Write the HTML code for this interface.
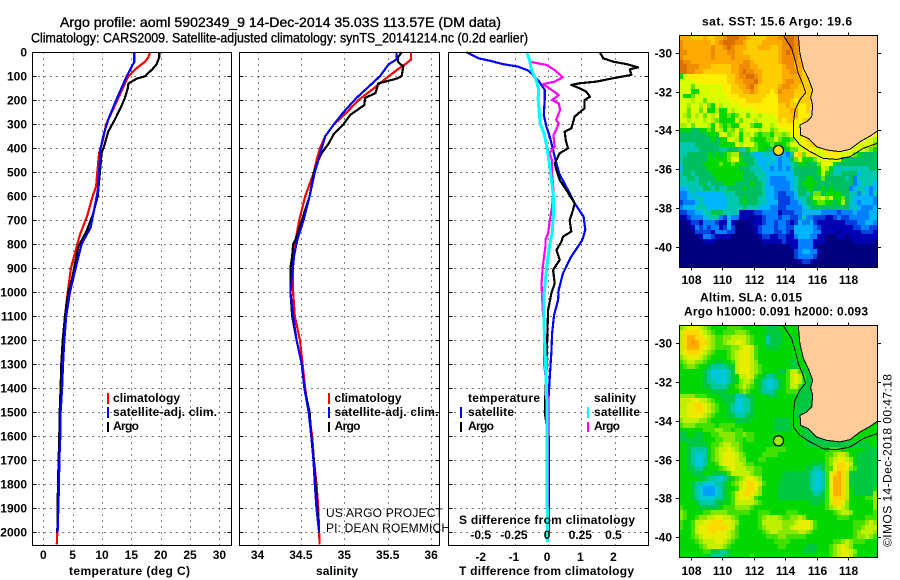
<!DOCTYPE html>
<html lang="en">
<head>
<meta charset="utf-8">
<title>Argo profile 5902349_9</title>
<style>
html,body{margin:0;padding:0;background:#fff;}
svg{display:block;}
text{font-family:"Liberation Sans",sans-serif;font-weight:bold;font-size:12px;fill:#000;}
.ttl{font-size:14px;font-weight:normal;stroke:#000;stroke-width:.35px;}
.thin{font-weight:normal;}
</style>
</head>
<body>
<svg id="root" xmlns="http://www.w3.org/2000/svg" width="900" height="580" viewBox="0 0 900 580">
<defs>
<clipPath id="clipA"><rect x="680" y="35.5" width="197" height="231.5"/></clipPath>
<clipPath id="clipB"><rect x="680" y="326" width="197" height="231"/></clipPath>
</defs>
<text class="ttl" x="60" y="27" textLength="441" lengthAdjust="spacingAndGlyphs">Argo profile: aoml 5902349_9 14-Dec-2014 35.03S 113.57E (DM data)</text>
<text class="ttl" x="31" y="42.5" textLength="497" lengthAdjust="spacingAndGlyphs">Climatology: CARS2009. Satellite-adjusted climatology: synTS_20141214.nc (0.2d earlier)</text>

<g id="gridLayer"></g>
<g id="lineLayer"></g>
<g id="tickLayer"></g>
<g id="frameLayer" fill="none" stroke="#000" stroke-width="1" shape-rendering="crispEdges">
<rect x="32.5" y="52.5" width="199" height="493"/>
<rect x="239.5" y="52.5" width="200" height="493"/>
<rect x="448.5" y="52.5" width="200" height="493"/>
</g>

<text x="69" y="575" textLength="121" lengthAdjust="spacing">temperature (deg C)</text>
<text x="316" y="575" textLength="42" lengthAdjust="spacing">salinity</text>
<text x="459" y="575" textLength="175" lengthAdjust="spacing">T difference from climatology</text>
<text x="459" y="524" textLength="176" lengthAdjust="spacing">S difference from climatology</text>

<g>
<rect x="107" y="393" width="2" height="11" fill="#f00"/>
<rect x="107" y="407" width="2" height="11" fill="#00f"/>
<rect x="107" y="422" width="2" height="10" fill="#000"/>
<text x="113" y="402" textLength="67" lengthAdjust="spacing">climatology</text>
<text x="113" y="416" textLength="104" lengthAdjust="spacing">satellite-adj. clim.</text>
<text x="113" y="430" textLength="26" lengthAdjust="spacing">Argo</text>
</g>
<g>
<rect x="328" y="393" width="2" height="11" fill="#f00"/>
<rect x="328" y="407" width="2" height="11" fill="#00f"/>
<rect x="328" y="422" width="2" height="10" fill="#000"/>
<text x="334.5" y="402" textLength="67" lengthAdjust="spacing">climatology</text>
<text x="334.5" y="416" textLength="104" lengthAdjust="spacing">satellite-adj. clim.</text>
<text x="334.5" y="430" textLength="26" lengthAdjust="spacing">Argo</text>
</g>
<g>
<text x="468" y="402" textLength="72" lengthAdjust="spacing">temperature</text>
<text x="468" y="416" textLength="46" lengthAdjust="spacing">satellite</text>
<text x="468" y="430" textLength="26" lengthAdjust="spacing">Argo</text>
<text x="594" y="402" textLength="42" lengthAdjust="spacing">salinity</text>
<text x="594" y="416" textLength="46" lengthAdjust="spacing">satellite</text>
<text x="594" y="430" textLength="26" lengthAdjust="spacing">Argo</text>
<rect x="460" y="407" width="2" height="11" fill="#00f"/>
<rect x="460" y="422" width="2" height="10" fill="#000"/>
<rect x="587" y="407" width="2" height="11" fill="#0ff"/>
<rect x="587" y="422" width="2" height="10" fill="#f0f"/>
</g>
<text class="thin" x="326" y="517" textLength="117" lengthAdjust="spacing">US ARGO PROJECT</text>
<text class="thin" x="326" y="532" textLength="124" lengthAdjust="spacing">PI: DEAN ROEMMICH</text>

<text x="702" y="25.5" textLength="150" lengthAdjust="spacing">sat. SST: 15.6 Argo: 19.6</text>
<text x="700" y="301.5" textLength="102" lengthAdjust="spacing">Altim. SLA: 0.015</text>
<text x="684" y="315.5" textLength="184" lengthAdjust="spacing">Argo h1000: 0.091 h2000: 0.093</text>
<g id="mapA"></g>
<g id="mapB"></g>
<text class="thin" transform="translate(891.5 547) rotate(-90)" textLength="173" lengthAdjust="spacing">©IMOS 14-Dec-2018 00:47:18</text>
</svg>

<script>
/* ---------- profile data ---------- */
const depthTicks = [0,100,200,300,400,500,600,700,800,900,1000,1100,1200,1300,1400,1500,1600,1700,1800,1900,2000];
const tempTicks = [0,5,10,15,20,25,30];
const salTicks = [34,34.5,35,35.5,36];
const salTickLabels = ['34','34.5','35','35.5','36'];
const tDiffTicks = [-2,-1,0,1,2];
const sDiffTicks = [-0.5,-0.25,0,0.25,0.5];
const sDiffTickLabels = ['-0.5','-0.25','0','0.25','0.5'];

const climTempDepth = [0,20,40,60,80,100,130,200,280,300,360,420,500,560,600,680,760,800,900,1000,1100,1200,1300,1400,1500,1600,1700,1800,1900,2000,2050];
const climTempValue = [18.17,17.9,17.3,16.2,15.3,14.5,13.9,12.6,11.07,10.7,10.2,9.5,9.2,9.0,8.4,7.5,6.25,5.8,4.7,4.15,3.7,3.4,3.2,3.0,2.8,2.73,2.65,2.55,2.5,2.39,2.3];
const satTempDepth = [0,40,60,100,150,200,280,340,400,500,580,650,730,800,880,1000,1100,1200,1300,1400,1500,1600,1700,1800,1900,2000];
const satTempValue = [15.5,15.5,15.05,14.2,13.3,12.4,11.07,10.3,9.77,9.5,9.26,8.7,8.06,6.5,5.7,4.54,3.9,3.58,3.35,3.2,2.95,2.9,2.73,2.67,2.55,2.44];
const argoTempDepth = [0,20,50,70,100,110,130,150,190,230,280,330,380,420,500,600,680,750,810,880,950,1000,1100,1200,1300,1400,1500,1600,1700,1800,1900,2000];
const argoTempValue = [19.76,19.76,19.3,18.6,17.3,15.9,14.5,14.4,13.9,13.2,12.2,11.07,10.5,9.94,9.65,9.26,8.4,7.27,5.96,5.4,4.83,4.26,3.7,3.3,3.07,2.95,2.8,2.73,2.6,2.5,2.44,2.39];

const climSalDepth = [0,30,50,70,100,150,200,250,300,350,400,450,500,600,700,780,850,900,1000,1100,1200,1300,1400,1500,1600,1700,1800,1900,2000,2050];
const climSalValue = [35.77,35.77,35.7,35.62,35.51,35.34,35.16,35.03,34.88,34.78,34.72,34.68,34.65,34.55,34.48,34.44,34.41,34.41,34.41,34.43,34.49,34.52,34.55,34.59,34.63,34.65,34.68,34.7,34.71,34.715];
const satSalDepth = [0,30,50,100,150,190,250,300,350,400,450,500,600,700,780,850,1000,1100,1200,1300,1400,1500,1600,1700,1800,1900,2000];
const satSalValue = [35.6,35.6,35.51,35.41,35.26,35.14,34.99,34.88,34.78,34.74,34.7,34.66,34.6,34.53,34.46,34.42,34.38,34.41,34.45,34.51,34.54,34.59,34.62,34.645,34.66,34.68,34.71];
const argoSalDepth = [0,20,40,60,100,110,130,170,190,220,260,300,340,380,420,450,500,600,700,770,800,850,900,1000,1100,1200,1300,1400,1500,1600,1700,1800,1900,2000];
const argoSalValue = [35.66,35.62,35.62,35.68,35.66,35.6,35.39,35.36,35.24,35.23,35.07,34.99,34.88,34.82,34.74,34.7,34.65,34.6,34.51,34.45,34.41,34.4,34.38,34.38,34.4,34.45,34.51,34.54,34.6,34.62,34.65,34.67,34.69,34.71];

const satTDiffDepth = [0,25,35,49,60,76,94,122,157,192,261,310,351,435,504,574,629,685,740,782,851,921,990,1032,1094,1171,1248,1351,1449,1865,2000];
const satTDiffValue = [-2.46,-2.1,-1.76,-1.36,-0.9,-0.6,-0.45,-0.27,-0.1,-0.1,-0.13,-0.05,0.05,0.2,0.33,0.6,0.8,1.07,1.12,1.03,0.7,0.45,0.32,0.3,0.18,0.12,0.1,0.05,0.01,0.03,0.03];
const argoTDiffDepth = [0,25,39,49,63,71,94,108,122,129,136,150,164,185,199,233,268,317,331,365,400,421,463,490,532,574,629,657,699,747,768,789,824,865,907,963,1004,1074,1300,1500,1600,2000];
const argoTDiffValue = [1.56,1.66,1.96,2.36,2.71,2.46,2.51,1.96,1.46,0.95,0.7,0.95,1.15,1.26,1.1,1.1,0.8,0.7,0.5,0.53,0.6,0.35,0.2,0.25,0.35,0.55,0.8,0.75,0.65,0.7,0.45,0.4,0.25,0.35,0.15,0.2,0.1,0,-0.05,-0.1,0,0];
const argoSDiffDepth = [0,39,53,74,104,122,133,150,178,199,213,240,282,296,324,344,393,421,449,504,574,643,713,754,782,810,893,963,1074,1143,1296,1449,1865,1976];
const argoSDiffValue = [-0.16,-0.14,-0.01,0.05,0.11,0.05,-0.04,0.01,0.08,0.03,0.08,0.09,0.06,0.08,0.06,0.04,0.05,0.01,0.03,0.03,0.04,0.03,0.01,0,-0.02,-0.02,-0.04,-0.05,-0.04,-0.03,-0.03,0,0,-0.01];
const satSDiffDepth = [0,32,74,115,157,192,296,338,393,463,532,601,685,754,810,893,1004,1074,1143,1282,1449,2040];
const satSDiffValue = [-0.16,-0.14,-0.125,-0.09,-0.07,-0.075,-0.06,-0.03,-0.01,0.01,0.025,0.04,0.04,0.03,0.01,-0.01,-0.03,-0.03,-0.03,-0.02,-0.01,-0.005];

/* ---------- map data ---------- */
const mapLonTicks = [108,110,112,114,116,118];
const mapLatTicks = [-30,-32,-34,-36,-38,-40];
const coastLon = [114.83,114.93,115.15,115.46,115.74,115.61,115.74,115.68,115.36,114.94,114.98,115.46,115.99,116.63,117.47,118.11,118.74,119.38,119.85];
const coastLat = [-29.11,-30.03,-30.8,-31.32,-31.92,-32.3,-32.69,-33.29,-33.55,-33.72,-34.24,-34.41,-34.84,-35.01,-35.09,-34.97,-34.58,-34.29,-34.03];
const shelfLon = [113.88,114.41,114.68,114.83,115.1,115.29,114.93,114.62,114.51,114.51,114.93,115.57,116.41,117.26,118.11,118.95,119.85];
const shelfLat = [-29.11,-29.78,-30.55,-31.06,-31.58,-32.06,-32.43,-32.95,-33.64,-34.32,-34.75,-35.09,-35.44,-35.49,-35.35,-34.92,-34.66];
const floatLon = [113.57];
const floatLat = [-35.03];

/* SST colour level per 0.25 degree cell, hex digit 0..F, "." = masked */
const sstRows = [
"DDDCCCDCCDDEFFFEEDCCCCDDDEEFFEE",
"EDDDDDDDCDEFFFEEDCCCCDDDDDEFFEE",
"EDDDDDDDEDDEFEDDDCCCDDDCCDEEFEE",
"EEDDDDDDEDDDEEDDCCCCCCCCCDEFEED",
"EDDDDDDDEDDDDEDDDDCCCCCCCDEEEED",
"FEEDDDDDDDDDDDDDEEDCCCCCCDEEEDDD",
"FFEEEDDDCCCCCDDEEEDDCCCCCCDEEDDDC",
"FFEEDDCCCCCCCDDEFEEDDCCCCCDDEEDCC",
"7ABBBBBBBBBBCCDEEFFEDCCCCCDDDDDCC",
"AAAABBBBBBBBCCDDEEEFDCCCCCDEEDDCCC",
"AAA8AAAAAAABBCCDDEFDCCCCCDEEDDCCCC",
"AAA77AAABAABBCCCDDEDCCCBCEDDDCCCCC",
"A778AAAAAAAABBBCCCCCCCBBBDDDDCCCCC",
"AAA9AA8AAAAAABBBBCCCCBBBBDDDCBCCC",
"AA9AA9A87A9AAAABBBBBBBBBBCCDCCBBCC",
"AA8AA8A77977A9AAAAABBBBBBCCCDDBBC",
"A98A9A8A9A77878AA8AA9AAABCCCCDBBB",
"AA9AAA9A987777A8AAA9AAAAACBCCBBCC",
"99A8AAA97A87877AAA877AA9ABBBBBABCC",
"777667787A9798A8AAAA9AA89AABBBBC",
"6666666777AA89A7A9A878879989ABACD................B",
"666666667677AA97AA877788A8778AABCCDD...........AA9",
"55556666667777A9AAA877787778AAABBCCCDD......AAAAA8",
"555556666655666557887766776788AABBAABBCD..BAAAA987",
"55666667676789966654455444435BC8AAAAABBBBAAA876666",
"5666666777778AA76665444543446 8A7778AAAABA766666666",
"56666677778778777665445443445677666 8ABA76666666666",
"4666666777777776665554434343566666 67A9755555555566",
"566566667777777766655544444446666667A7655666645555",
"556656666777777766665543333445667766866666563555554",
"555556656667776666766543333345677776666666663455544",
"445555665655666676666544333345667766767666634 55434",
"334544444445556666666544322334665688677776655 35435",
"334455444444555676665544322234556799A8A77865444443",
"233345444444555676665544422233456678877679654 34443",
"344455544444555565554443322333345666666666645433344",
"223344556665555111122333312223344444333323334 33344",
"112333455532433111011233323322353322211232233 33344",
"001221333211410000111233233212433421111111222 33443",
"000132323312420000012333233224444432111111112 23322",
"000022221333220000012333223214444433111101111 12221",
"000001332111100000001221122113444331100011011 11111",
"000000111000000000000111112111333311100000001 11110",
"00000000000000000000000000001133331000000000000000",
"00000000000000000000000000000234433100000000000000",
"00000000000000000000000000000233332000000000000000",
"00000000000000000000000000000012210000000000000000",
"00000000000000000000000000000000000000000000000000"
].map(r => r.split(' ').join(''));

/* sea-level anomaly colour level per 0.25 degree cell */
const slaRows = [
"9ABBBA9877778888777777666777777",
"ACCCCBA987788899987777666677777",
"ACDDCCBA98899AAAA98777566677677",
"ACDEDCCA9889AABBA98777566677777",
"ACDDDCBA9888899ABBA87766677777",
"ABCCCBA9877789ABBBA877777777777",
"9ABBBA98777789ABBBA87777777777",
"89AA9987766778ABBBA97777777766",
"78998776555566ABBBA98777777766",
"77777765444456ABBBA98777766 8AA86",
"777777654444567AABA876556778ABA86",
"7777776554445679AA97654456 78ABA866",
"7777776655556789A987654456 78AA8666",
"7777777766667778987 76555 67 78886666",
"9999888777666655566 7776667 77776666666",
"AAABBAA987766644556 7777777 7777666666",
"AABBCCBA98776544556 77777777777666666",
"AABBCCBA98776544556 77777777777666666",
"AABBBBA987776655566 77777777776666666",
"9AAAA998777777666677777766667776666",
"8999888887888877777777776666777666667",
"7777778889988788777777776666777666667",
"667766778899998898877777777777766666666",
"66666677788999887887777777777777666666666",
"7766666788 9AA9987777 7777777777 7766666666 6666666677",
"7765555789 AABA987777 7788888777 7777777788 8777777666",
"7765445789 ABBBA98777 7888877777 7777777889 AA97766666",
"7765445789 ABBBA99777 8877777777 777777789A BBA9766666",
"7765445778 ABBBAA9887 7777777777 777666689B CCBA766666",
"7766556777 89ABAAA998 8777777777 776655688B CCB9866666",
"7776667766 678AAAAA98 8777776666 66654458BC DCA6666666",
"7777766554 456789ABBA 9777776666 66654458BD DCA6666666",
"7776554445 56789ABCCB A877766666 66654458BD DCA6666666",
"7776543334 56778ABCCB 9777766666 66654458BD DCA7666667",
"7776543334 5678ABCCBA 9777766666 66665568BD DCA7666669",
"7776544445 5678ABBBA8 7777766666 66666668BC CCA7777889",
"7777655556 6778AAAAA9 8777777777 77766678AC CB97777779",
"8777766666 7888999987 7777777777 777777789A BA97777779",
"9877778899 9988888877 8887777888 7777777778 9AA9777778",
"9877899AAB BAA9877777 89AAA98899 A977777777 8887777888",
"8778AABBCC CBBA977777 8AAAAA999A BBBA877777 77778889A9",
"8778ABBCCC CCBA877777 89AAAA99AB BBBA877777 7777889AAA",
"7778ABBBCB BBA9877777 789AA99999 AA98777777 777789AAA9",
"77789ABBBB BBA9877777 7788899888 8877777777 7777899A98",
"777789AAAB BA98777777 7777888877 7777777778 89A9888777",
"7777789AAA A987777777 7777788777 7766677789 ABA9777777",
"7777778866 5567777777 7777777777 7666677789 ABBA977777",
"7777777655 5667777787 7777777777 7777777789 ABBA877777"
].map(r => r.split(' ').join(''));

/* ---------- axis functions ---------- */
const svgNS = 'http://www.w3.org/2000/svg';
const depthY = d => 52.3 + 0.24 * d;
const tempX = v => 43.3 + 5.87 * v;
const salX = v => 257.5 + 86.8 * (v - 34);
const tDiffX = v => 548.1 + 33.2 * v;
const sDiffX = v => 548.1 + 132.8 * v;
const lonX = lon => 690.7 + 15.76 * (lon - 108);
const latYA = lat => 52.7 + 19.43 * (-30 - lat);
const latYB = lat => 343 + 19.43 * (-30 - lat);
const sstColors = ['#000080','#0000b4','#0040e0','#0080ff','#00b4ff','#00c8b0','#00bf60','#00d800','#60e800','#a8f000','#d8ff00','#ffee00','#ffcc00','#ffaa00','#f08c00','#dc6e00'];
const slaColors = ['#000080','#0000b4','#0040e0','#00a0ff','#00c8d8','#00c8a0','#00c840','#00d800','#40e000','#88e800','#c0f000','#e8ee00','#ffd800','#ffb000','#ff9900','#dc6e00'];

function add(parent, tag, attrs, txt) {
  const el = document.createElementNS(svgNS, tag);
  for (const k in attrs) el.setAttribute(k, attrs[k]);
  if (txt !== undefined) el.textContent = txt;
  parent.appendChild(el);
  return el;
}

const gridLayer = document.getElementById('gridLayer');
const lineLayer = document.getElementById('lineLayer');
const tickLayer = document.getElementById('tickLayer');

function drawGrid(x0, x1, xs, panelName) {
  depthTicks.forEach(d => {
    const y = Math.round(depthY(d)) + 0.5;
    const g = add(gridLayer, 'line', {x1: x0, x2: x1, y1: y, y2: y, stroke: '#000', 'stroke-width': 1, 'stroke-dasharray': '1 5', 'shape-rendering': 'crispEdges'});
    
    
    const t1 = add(gridLayer, 'line', {x1: x0, x2: x0 + 4, y1: y, y2: y, stroke: '#000', 'shape-rendering': 'crispEdges'});
    
    
    const t2 = add(gridLayer, 'line', {x1: x1 - 4, x2: x1, y1: y, y2: y, stroke: '#000', 'shape-rendering': 'crispEdges'});
    
    
  });
  xs.forEach(x => {
    const px = Math.round(x) + 0.5;
    const g = add(gridLayer, 'line', {x1: px, x2: px, y1: 52.5, y2: 545.5, stroke: '#000', 'stroke-width': 1, 'stroke-dasharray': '1 5', 'shape-rendering': 'crispEdges'});
    
    
  });
}
drawGrid(32.5, 231.5, tempTicks.map(tempX), 'temperature');
drawGrid(239.5, 439.5, salTicks.map(salX), 'salinity');
drawGrid(448.5, 648.5, tDiffTicks.map(tDiffX), 'difference');

function drawLine(depths, values, xFn, color, width, name) {
  const pts = depths.map((d, i) => xFn(values[i]).toFixed(1) + ',' + depthY(d).toFixed(1)).join(' ');
  const el = add(lineLayer, 'polyline', {points: pts, fill: 'none', stroke: color, 'stroke-width': width, 'shape-rendering': 'crispEdges', 'stroke-linejoin': 'round'});
  
  
}
drawLine(climTempDepth, climTempValue, tempX, '#f00', 2.2, 'temperature-climatology-line');
drawLine(argoTempDepth, argoTempValue, tempX, '#000', 2.2, 'temperature-argo-line');
drawLine(satTempDepth, satTempValue, tempX, '#00f', 2.2, 'temperature-satellite-line');
drawLine(climSalDepth, climSalValue, salX, '#f00', 2.2, 'salinity-climatology-line');
drawLine(argoSalDepth, argoSalValue, salX, '#000', 2.2, 'salinity-argo-line');
drawLine(satSalDepth, satSalValue, salX, '#00f', 2.2, 'salinity-satellite-line');
drawLine(satTDiffDepth, satTDiffValue, tDiffX, '#00f', 2.2, 't-difference-satellite-line');
drawLine(argoTDiffDepth, argoTDiffValue, tDiffX, '#000', 2.2, 't-difference-argo-line');
drawLine(argoSDiffDepth, argoSDiffValue, sDiffX, '#f0f', 2.2, 's-difference-argo-line');
drawLine(satSDiffDepth, satSDiffValue, sDiffX, '#0ff', 3, 's-difference-satellite-line');

function label(x, y, anchor, str, name) {
  const el = add(tickLayer, 'text', {x: x, y: y, 'text-anchor': anchor}, str);
  
  
}
depthTicks.forEach(d => label(27, depthY(d) + 4, 'end', String(d), 'depth-tick-label'));
tempTicks.forEach(v => label(tempX(v), 559, 'middle', String(v), 'temperature-tick-label'));
salTicks.forEach((v, i) => label(salX(v), 559, 'middle', salTickLabels[i], 'salinity-tick-label'));
tDiffTicks.forEach(v => label(tDiffX(v) - 1, 561, 'middle', String(v), 't-difference-tick-label'));
sDiffTicks.forEach((v, i) => label(sDiffX(v) - 1, 539, 'middle', sDiffTickLabels[i], 's-difference-tick-label'));

function drawMap(groupId, rows, colors, latY, clipId, base, top, bottom, markerFill, labelY, prefix) {
  const group = document.getElementById(groupId);
  const cells = add(group, 'g', {'clip-path': 'url(#' + clipId + ')'});
  
  
  const bg = add(cells, 'rect', {x: 679.5, y: top, width: 198, height: bottom - top, fill: base});
  
  
  rows.forEach((row, r) => {
    for (let c = 0; c < row.length; c++) {
      if (row[c] === '.') continue;
      const lon0 = 107.29 + c * 0.25;
      const lat0 = -29.105 - r * 0.25;
      const x0 = Math.round(lonX(lon0)), x1 = Math.round(lonX(lon0 + 0.25));
      const y0 = Math.round(latY(lat0)), y1 = Math.round(latY(lat0 - 0.25));
      const cell = add(cells, 'rect', {x: x0, y: y0, width: x1 - x0, height: y1 - y0, fill: colors[parseInt(row[c], 16)], 'shape-rendering': 'crispEdges'});
      
      
    }
  });
  const landPts = coastLon.map((lon, i) => lonX(lon).toFixed(1) + ',' + latY(coastLat[i]).toFixed(1));
  landPts.push(lonX(119.9).toFixed(1) + ',' + top, lonX(coastLon[0]).toFixed(1) + ',' + top);
  const land = add(cells, 'polygon', {points: landPts.join(' '), fill: '#ffcc99', 'shape-rendering': 'crispEdges'});
  
  
  const coast = add(cells, 'polyline', {points: coastLon.map((lon, i) => lonX(lon).toFixed(1) + ',' + latY(coastLat[i]).toFixed(1)).join(' '), fill: 'none', stroke: '#000', 'stroke-width': 1, 'shape-rendering': 'crispEdges'});
  
  
  const shelf = add(cells, 'polyline', {points: shelfLon.map((lon, i) => lonX(lon).toFixed(1) + ',' + latY(shelfLat[i]).toFixed(1)).join(' '), fill: 'none', stroke: '#000', 'stroke-width': 1, 'shape-rendering': 'crispEdges'});
  
  
  const frame = add(group, 'rect', {x: 679.5, y: top, width: 198, height: bottom - top, fill: 'none', stroke: '#000', 'shape-rendering': 'crispEdges'});
  
  
  const marker = add(group, 'circle', {cx: lonX(floatLon[0]), cy: latY(floatLat[0]), r: 5, fill: markerFill, stroke: '#000', 'stroke-width': 1.2});
  
  
  mapLonTicks.forEach(lon => {
    const x = Math.round(lonX(lon)) + 0.5;
    const t = add(group, 'line', {x1: x, x2: x, y1: top - 3, y2: top, stroke: '#000', 'shape-rendering': 'crispEdges'});
    
    
    const b = add(group, 'line', {x1: x, x2: x, y1: bottom, y2: bottom + 3, stroke: '#000', 'shape-rendering': 'crispEdges'});
    
    
    const l = add(group, 'text', {x: x, y: labelY, 'text-anchor': 'middle'}, String(lon));
    
    
  });
  mapLatTicks.forEach(lat => {
    const y = Math.round(latY(lat)) + 0.5;
    const t = add(group, 'line', {x1: 676, x2: 679.5, y1: y, y2: y, stroke: '#000', 'shape-rendering': 'crispEdges'});
    
    
    const r = add(group, 'line', {x1: 877.5, x2: 881, y1: y, y2: y, stroke: '#000', 'shape-rendering': 'crispEdges'});
    
    
    const l = add(group, 'text', {x: 672, y: y + 4, 'text-anchor': 'end'}, String(lat));
    
    
  });
}
drawMap('mapA', sstRows, sstColors, latYA, 'clipA', '#ffcc99', 35.5, 267.5, '#ffe000', 284, 'sst-map');
drawMap('mapB', slaRows, slaColors, latYB, 'clipB', '#00d800', 325.5, 557.5, '#99ee00', 575, 'sla-map');
</script>
</body>
</html>
